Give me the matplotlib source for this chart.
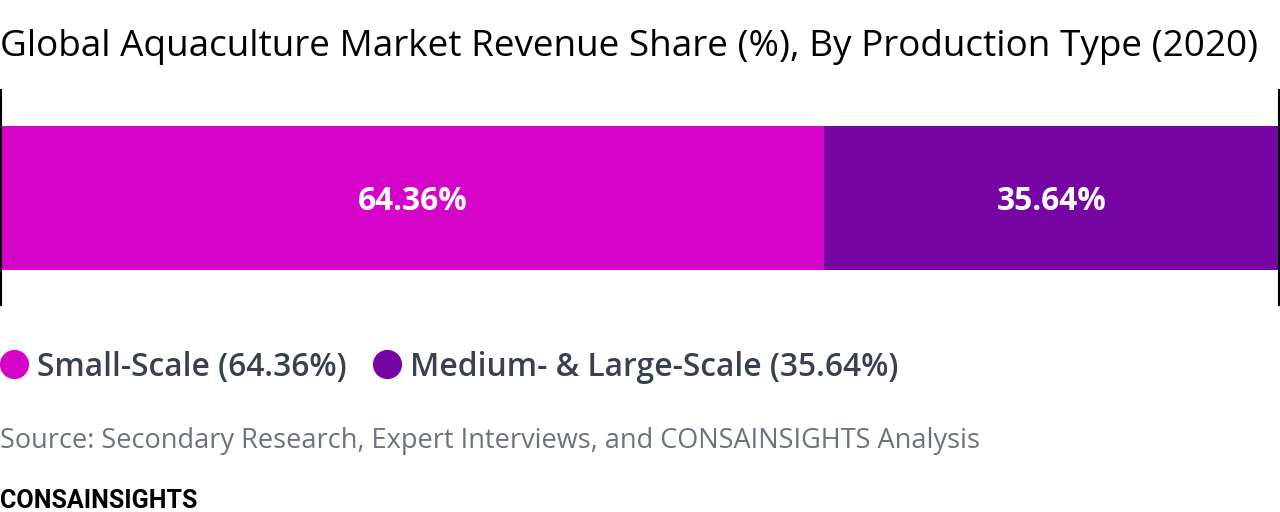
import matplotlib.pyplot as plt
from matplotlib.lines import Line2D

# data
categories = ["Small-Scale", "Medium- & Large-Scale"]
shares = [64.36, 35.64]
colors = ["#D504C8", "#7605A3"]

W, H = 1280, 512
fig = plt.figure(figsize=(W / 100, H / 100), dpi=100)

# axes spans the bar area (px coords -> fig fraction)
ax = fig.add_axes([1 / W, 1 - 305 / H, 1278 / W, 215 / H])
left = 0
for cat, val, col in zip(categories, shares, colors):
    ax.barh(0, val, left=left, height=144 / 215, color=col)
    ax.text(left + val / 2, -0.02, f"{val:.2f}%", ha="center", va="center",
            color="white", fontsize=22.8, fontweight="bold", family="Open Sans")
    left += val
ax.set_xlim(0, sum(shares))
ax.set_ylim(-0.5, 0.5)
ax.set_xticks([])
ax.set_yticks([])
for s in ["top", "bottom"]:
    ax.spines[s].set_visible(False)
for s in ["left", "right"]:
    ax.spines[s].set_linewidth(1.5)
    ax.spines[s].set_color("black")

fig.text(0, 1 - 47 / H, "Global Aquaculture Market Revenue Share (%), By Production Type (2020)",
         ha="left", va="center", fontsize=26.6, family="Open Sans", color="black")

# legend
handles = [Line2D([], [], marker="o", ls="", markersize=20, color=c) for c in colors]
labels = [f"{c} ({v:.2f}%)" for c, v in zip(categories, shares)]
leg = fig.legend(handles, labels, loc="center left", bbox_to_anchor=(-3 / W, 1 - 367 / H),
                 ncol=2, frameon=False, borderpad=0, borderaxespad=0,
                 handlelength=1.1, handletextpad=0.15, columnspacing=0.74,
                 prop={"family": "Open Sans", "size": 22.9, "weight": "semibold"})
for t in leg.get_texts():
    t.set_color("#374151")

fig.text(0, 1 - 441 / H, "Source: Secondary Research, Expert Interviews, and CONSAINSIGHTS Analysis",
         ha="left", va="center", fontsize=19.5, family="Open Sans", color="#6B7280")
fig.text(0, 1 - 501 / H, "CONSAINSIGHTS", ha="left", va="center", fontsize=18.1,
         family="Roboto", fontweight="bold", color="black")

fig.savefig("out.png", dpi=100)
